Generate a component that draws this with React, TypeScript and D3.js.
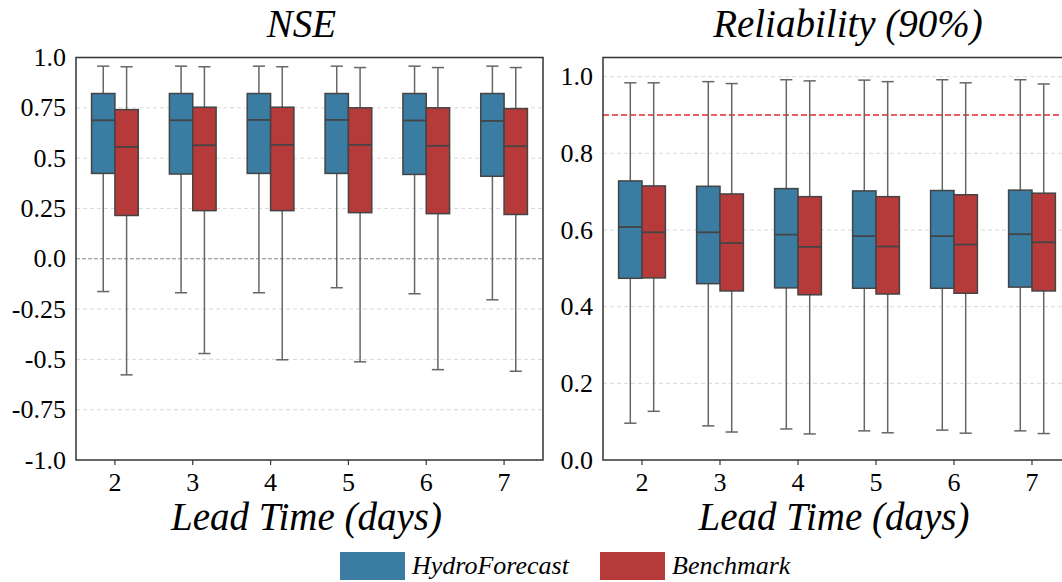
import { scaleBand, scaleLinear } from "d3";

const leadTimes = ["2", "3", "4", "5", "6", "7"];
const seriesNames = ["HydroForecast", "Benchmark"];
const seriesColors = ["#3a7ca2", "#b73a3b"];

// NSE, HydroForecast
const nseHydroLow = [-0.163, -0.169, -0.169, -0.144, -0.174, -0.204];
const nseHydroQ1 = [0.424, 0.421, 0.424, 0.424, 0.419, 0.41];
const nseHydroMed = [0.688, 0.688, 0.69, 0.69, 0.687, 0.685];
const nseHydroQ3 = [0.821, 0.821, 0.821, 0.821, 0.821, 0.821];
const nseHydroHigh = [0.957, 0.957, 0.957, 0.957, 0.957, 0.957];
// NSE, Benchmark
const nseBenchLow = [-0.577, -0.471, -0.502, -0.512, -0.551, -0.559];
const nseBenchQ1 = [0.215, 0.239, 0.239, 0.229, 0.224, 0.22];
const nseBenchMed = [0.556, 0.564, 0.566, 0.566, 0.561, 0.559];
const nseBenchQ3 = [0.741, 0.753, 0.753, 0.75, 0.75, 0.746];
const nseBenchHigh = [0.954, 0.954, 0.954, 0.95, 0.95, 0.95];

// Reliability, HydroForecast
const relHydroLow = [0.096, 0.089, 0.081, 0.076, 0.078, 0.076];
const relHydroQ1 = [0.474, 0.46, 0.449, 0.448, 0.448, 0.451];
const relHydroMed = [0.608, 0.594, 0.588, 0.584, 0.584, 0.589];
const relHydroQ3 = [0.728, 0.714, 0.708, 0.702, 0.703, 0.704];
const relHydroHigh = [0.984, 0.987, 0.992, 0.991, 0.992, 0.992];
// Reliability, Benchmark
const relBenchLow = [0.127, 0.073, 0.068, 0.071, 0.07, 0.069];
const relBenchQ1 = [0.475, 0.441, 0.431, 0.433, 0.435, 0.441];
const relBenchMed = [0.594, 0.566, 0.556, 0.557, 0.562, 0.568];
const relBenchQ3 = [0.715, 0.694, 0.687, 0.687, 0.692, 0.696];
const relBenchHigh = [0.984, 0.982, 0.989, 0.987, 0.984, 0.981];

const nseTicks = [1.0, 0.75, 0.5, 0.25, 0.0, -0.25, -0.5, -0.75, -1.0];
const nseTickLabels = ["1.0", "0.75", "0.5", "0.25", "0.0", "-0.25", "-0.5", "-0.75", "-1.0"];
const relTicks = [0.0, 0.2, 0.4, 0.6, 0.8, 1.0];
const relTickLabels = ["0.0", "0.2", "0.4", "0.6", "0.8", "1.0"];
const relTarget = 0.9;

const font = "Liberation Serif";
const edge = "#444";
const whisk = "#666";

type Stats = { low: number[]; q1: number[]; med: number[]; q3: number[]; high: number[] };

const nseSeries: Stats[] = [
  { low: nseHydroLow, q1: nseHydroQ1, med: nseHydroMed, q3: nseHydroQ3, high: nseHydroHigh },
  { low: nseBenchLow, q1: nseBenchQ1, med: nseBenchMed, q3: nseBenchQ3, high: nseBenchHigh },
];
const relSeries: Stats[] = [
  { low: relHydroLow, q1: relHydroQ1, med: relHydroMed, q3: relHydroQ3, high: relHydroHigh },
  { low: relBenchLow, q1: relBenchQ1, med: relBenchMed, q3: relBenchQ3, high: relBenchHigh },
];

const Panel = ({ x0, x1, y0, y1, domain, ticks, tickLabels, series, title, titleDx, zeroLine, hline }) => {
  const xScale = scaleBand<string>().domain(leadTimes).range([x0, x1]);
  const hueScale = scaleBand<string>()
    .domain(seriesNames)
    .range([-xScale.bandwidth() * 0.3, xScale.bandwidth() * 0.3]);
  const yScale = scaleLinear().domain(domain).range([y1, y0]);
  const boxW = hueScale.bandwidth();
  const capW = boxW * 0.52;
  const mid = (x0 + x1) / 2;

  return (
    <g>
      {ticks.map((t, i) => (
        <g key={i}>
          {t !== domain[0] && t !== domain[1] && (
            <line
              x1={x0}
              x2={x1}
              y1={yScale(t)}
              y2={yScale(t)}
              stroke={zeroLine && t === 0 ? "#888" : "#d9d9d9"}
              strokeWidth={zeroLine && t === 0 ? 1.2 : 1}
              strokeDasharray={zeroLine && t === 0 ? "4,2" : "4,3"}
            />
          )}
          <text x={x0 - 10} y={yScale(t) + 8.5} textAnchor="end" fontFamily={font} fontSize={26}>
            {tickLabels[i]}
          </text>
        </g>
      ))}
      {hline !== undefined && (
        <line
          x1={x0}
          x2={x1}
          y1={yScale(hline)}
          y2={yScale(hline)}
          stroke="#e8282b"
          strokeWidth={1.6}
          strokeDasharray="6,3"
        />
      )}
      {leadTimes.map((lt, i) => {
        const cx = xScale(lt)! + xScale.bandwidth() / 2;
        return (
          <g key={lt}>
            {series.map((s, j) => {
              const bx = cx + hueScale(seriesNames[j])!;
              const wx = bx + boxW / 2;
              return (
                <g key={j}>
                  <line x1={wx} x2={wx} y1={yScale(s.high[i])} y2={yScale(s.q3[i])} stroke={whisk} strokeWidth={1.5} />
                  <line x1={wx} x2={wx} y1={yScale(s.q1[i])} y2={yScale(s.low[i])} stroke={whisk} strokeWidth={1.5} />
                  <line x1={wx - capW / 2} x2={wx + capW / 2} y1={yScale(s.high[i])} y2={yScale(s.high[i])} stroke={whisk} strokeWidth={1.5} />
                  <line x1={wx - capW / 2} x2={wx + capW / 2} y1={yScale(s.low[i])} y2={yScale(s.low[i])} stroke={whisk} strokeWidth={1.5} />
                  <rect
                    x={bx}
                    y={yScale(s.q3[i])}
                    width={boxW}
                    height={yScale(s.q1[i]) - yScale(s.q3[i])}
                    fill={seriesColors[j]}
                    stroke={edge}
                    strokeWidth={1.5}
                  />
                  <line x1={bx} x2={bx + boxW} y1={yScale(s.med[i])} y2={yScale(s.med[i])} stroke={edge} strokeWidth={1.8} />
                </g>
              );
            })}
            <line x1={cx} x2={cx} y1={y1} y2={y1 + 5} stroke="#333" strokeWidth={1.2} />
            <text x={cx} y={y1 + 31} textAnchor="middle" fontFamily={font} fontSize={26}>
              {lt}
            </text>
          </g>
        );
      })}
      <rect x={x0} y={y0} width={x1 - x0} height={y1 - y0} fill="none" stroke="#333" strokeWidth={1.5} />
      <text x={mid + titleDx} y={37} textAnchor="middle" fontFamily={font} fontSize={39} fontStyle="italic">
        {title}
      </text>
      <text x={mid - 3} y={530} textAnchor="middle" fontFamily={font} fontSize={39} fontStyle="italic">
        Lead Time (days)
      </text>
    </g>
  );
};

const App = () => {
  return (
    <svg
      width={1062}
      height={582}
      style={{ position: "absolute", left: 0, top: 0, background: "#fff" }}
    >
      <Panel
        x0={76}
        x1={543}
        y0={57.5}
        y1={460}
        domain={[-1, 1]}
        ticks={nseTicks}
        tickLabels={nseTickLabels}
        series={nseSeries}
        title="NSE"
        titleDx={-8}
        zeroLine={true}
        hline={undefined}
      />
      <Panel
        x0={603}
        x1={1071}
        y0={57.5}
        y1={460}
        domain={[0, 1.05]}
        ticks={relTicks}
        tickLabels={relTickLabels}
        series={relSeries}
        title="Reliability (90%)"
        titleDx={11}
        zeroLine={false}
        hline={relTarget}
      />
      {seriesNames.map((name, i) => (
        <g key={name} transform={`translate(${340 + i * 260},552)`}>
          <rect width={65} height={28} fill={seriesColors[i]} />
          <text x={72} y={22} fontFamily={font} fontSize={26} fontStyle="italic">
            {name}
          </text>
        </g>
      ))}
    </svg>
  );
};

export default App;
